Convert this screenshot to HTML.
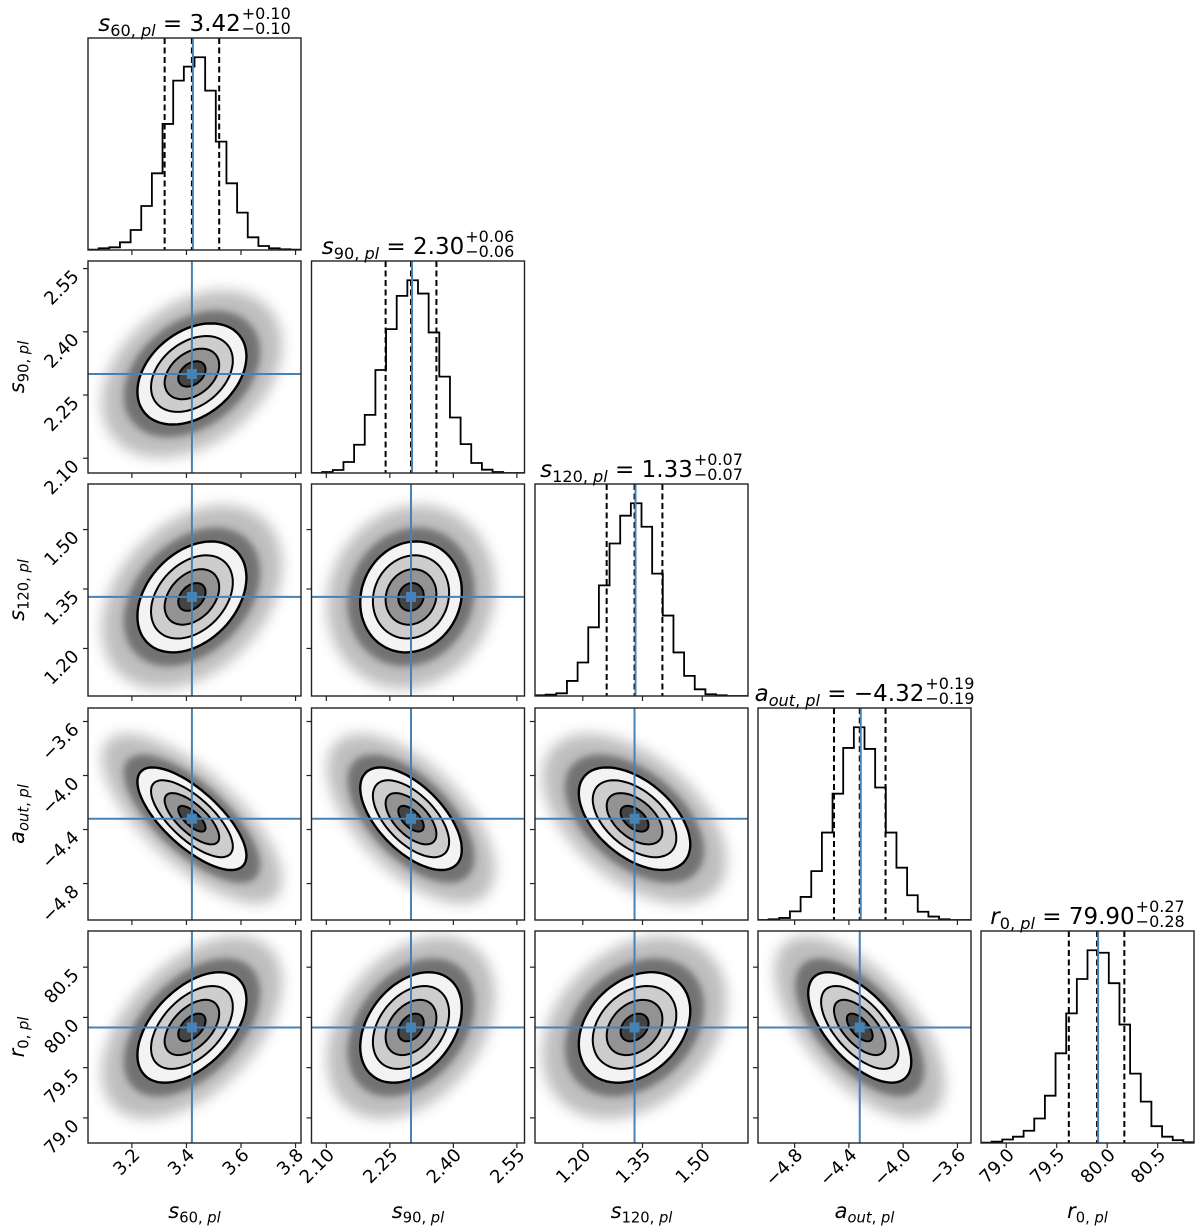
<!DOCTYPE html>
<html><head><meta charset="utf-8">
<style>
html,body{margin:0;padding:0;background:#fff;}
svg{display:block;font-family:"DejaVu Sans","Liberation Sans",sans-serif;}
</style></head>
<body>
<svg id="fig" width="1200" height="1232" viewBox="0 0 1200 1232" xmlns="http://www.w3.org/2000/svg">
<defs>
<filter id="blurA" x="-50%" y="-50%" width="200%" height="200%"><feGaussianBlur stdDeviation="7"/></filter>
<filter id="blurB" x="-50%" y="-50%" width="200%" height="200%"><feGaussianBlur stdDeviation="3.5"/></filter>
</defs>
</svg>
<script>
// ---- data ----
const paramNames = ["60", "90", "120", "out", "0"];
const paramLetters = ["s", "s", "s", "a", "r"];
const medians = [3.42, 2.30, 1.33, -4.32, 79.90];
const errPlus = [0.10, 0.06, 0.07, 0.19, 0.27];
const errMinus = [0.10, 0.06, 0.07, 0.19, 0.28];
const truths = [3.42, 2.30, 1.33, -4.32, 79.90];
const rangeMin = [3.039, 2.065, 1.08, -5.07, 78.75];
const rangeMax = [3.82, 2.568, 1.615, -3.50, 80.86];
const ticks0 = [3.2, 3.4, 3.6, 3.8];
const ticks1 = [2.10, 2.25, 2.40, 2.55];
const ticks2 = [1.20, 1.35, 1.50];
const ticks3 = [-4.8, -4.4, -4.0, -3.6];
const ticks4 = [79.0, 79.5, 80.0, 80.5];
const tickLabels0 = ["3.2", "3.4", "3.6", "3.8"];
const tickLabels1 = ["2.10", "2.25", "2.40", "2.55"];
const tickLabels2 = ["1.20", "1.35", "1.50"];
const tickLabels3 = ["\u22124.8", "\u22124.4", "\u22124.0", "\u22123.6"];
const tickLabels4 = ["79.0", "79.5", "80.0", "80.5"];
const hist0 = [1,5,8,23,60,132,230,378,508,550,578,478,325,200,112,38,12,5,2,1];
const hist1 = [0,3,9,33,85,175,310,433,533,580,540,423,290,167,87,30,10,3,0,0];
const hist2 = [2,4,8,45,100,205,330,455,538,575,505,365,240,130,60,20,5,2,0,0];
const hist3 = [0,2,6,25,67,142,254,367,500,560,497,385,254,152,72,24,10,2,0,0];
const hist4 = [1,4,10,18,35,70,135,256,370,468,550,543,456,338,198,118,48,18,8,2];
// correlation rows (lower triangle used)
const corr1 = [0.35];
const corr2 = [0.35, 0.10];
const corr3 = [-0.72, -0.60, -0.50];
const corr4 = [0.50, 0.35, 0.30, -0.62];

const ticksAll = [ticks0, ticks1, ticks2, ticks3, ticks4];
const labelsAll = [tickLabels0, tickLabels1, tickLabels2, tickLabels3, tickLabels4];
const histAll = [hist0, hist1, hist2, hist3, hist4];
const corrAll = [[], corr1, corr2, corr3, corr4];

// ---- layout ----
const colX = [88, 311.5, 535, 758, 981];
const rowY = [38, 261, 484, 708, 931];
const PW = 213, PH = 212;
const BLUE = "#4682b4";
const NS = "http://www.w3.org/2000/svg";
const svg = document.getElementById("fig");
function mk(tag, attrs, parent) {
  const e = document.createElementNS(NS, tag);
  for (const k in attrs) e.setAttribute(k, attrs[k]);
  (parent || svg).appendChild(e);
  return e;
}
function sx(p, v) { return colX[p] + (v - rangeMin[p]) / (rangeMax[p] - rangeMin[p]) * PW; }
function sy(p, row, v) { return rowY[row] + PH - (v - rangeMin[p]) / (rangeMax[p] - rangeMin[p]) * PH; }
const sigmas = medians.map((m, i) => (errPlus[i] + errMinus[i]) / 2);

function addTitleLike(parent, x, y, letter, sub, fs) {
  const t = mk("text", {x: x, y: y, "font-size": fs, fill: "#000"}, parent);
  const a = mk("tspan", {"font-style": "italic"}, t); a.textContent = letter;
  const isNum = /^[0-9]+$/.test(sub);
  const b = mk("tspan", {"font-size": fs * 0.7, dy: fs * 0.22, "font-style": isNum ? "normal" : "italic"}, t); b.textContent = sub;
  const b2 = mk("tspan", {"font-size": fs * 0.7}, t); b2.textContent = ", ";
  const c = mk("tspan", {"font-size": fs * 0.7, "font-style": "italic"}, t); c.textContent = "pl";
  return t;
}

for (let i = 0; i < 5; i++) {
  for (let j = 0; j <= i; j++) {
    const g = mk("g", {});
    
    
    const x0 = colX[j], y0 = rowY[i];
    const cid = "clip" + i + "_" + j;
    const cp = mk("clipPath", {id: cid}, g);
    mk("rect", {x: x0, y: y0, width: PW, height: PH}, cp);
    const inner = mk("g", {"clip-path": "url(#" + cid + ")"}, g);
    if (i === j) {
      const h = histAll[i];
      const ymax = Math.max.apply(null, h) * 1.1;
      const n = h.length;
      const bw = (rangeMax[i] - rangeMin[i]) / n;
      let d = "M" + sx(i, rangeMin[i]) + "," + (y0 + PH);
      for (let k = 0; k < n; k++) {
        const yy = y0 + PH - h[k] / ymax * PH;
        d += " L" + sx(i, rangeMin[i] + k * bw) + "," + yy + " L" + sx(i, rangeMin[i] + (k + 1) * bw) + "," + yy;
      }
      d += " L" + sx(i, rangeMax[i]) + "," + (y0 + PH);
      const hp = mk("path", {d: d, fill: "none", stroke: "#000", "stroke-width": 1.8}, inner);
      
      
      const qs = [medians[i] - errMinus[i], medians[i], medians[i] + errPlus[i]];
      qs.forEach(q => {
        const l = mk("line", {x1: sx(i, q), x2: sx(i, q), y1: y0, y2: y0 + PH, stroke: "#000", "stroke-width": 2, "stroke-dasharray": "6,3.5"}, inner);
        
        
      });
      const tl = mk("line", {x1: sx(i, truths[i]) + 1, x2: sx(i, truths[i]) + 1, y1: y0, y2: y0 + PH, stroke: BLUE, "stroke-width": 2}, inner);
      
      
      // title
      const tg = mk("g", {}, svg);
      
      
      const fs = 23;
      const ty = y0 - 7;
      const t = addTitleLike(tg, 0, ty, paramLetters[i], paramNames[i], fs);
      const rest = mk("tspan", {dy: -fs * 0.22}, t);
      rest.textContent = " = " + (medians[i] < 0 ? "\u2212" + Math.abs(medians[i]).toFixed(2) : medians[i].toFixed(2));
      const sup = mk("text", {y: ty - 12, "font-size": 16}, tg); sup.textContent = "+" + errPlus[i].toFixed(2);
      const sub = mk("text", {y: ty + 3, "font-size": 16}, tg); sub.textContent = "\u2212" + errMinus[i].toFixed(2);
      const w1 = t.getComputedTextLength();
      const w2 = Math.max(sup.getComputedTextLength(), sub.getComputedTextLength());
      const start = x0 + PW / 2 - (w1 + w2 + 1) / 2;
      t.setAttribute("x", start);
      sup.setAttribute("x", start + w1 + 1);
      sub.setAttribute("x", start + w1 + 1);
    } else {
      const px = j, py = i;
      const r = corrAll[i][j];
      const mx = medians[px], my = medians[py], sxg = sigmas[px], syg = sigmas[py];
      function ell(k) {
        let d = "";
        for (let a = 0; a <= 72; a++) {
          const t = a / 72 * 2 * Math.PI;
          const vx = mx + k * sxg * Math.cos(t);
          const vy = my + k * syg * (r * Math.cos(t) + Math.sqrt(1 - r * r) * Math.sin(t));
          d += (a ? " L" : "M") + sx(px, vx).toFixed(1) + "," + sy(py, i, vy).toFixed(1);
        }
        return d + "Z";
      }
      const h1 = mk("path", {d: ell(3.3), fill: "#3a3a3a", opacity: 0.33, filter: "url(#blurA)"}, inner);
      
      
      const h2 = mk("path", {d: ell(2.5), fill: "#2a2a2a", opacity: 0.5, filter: "url(#blurB)"}, inner);
      
      
      const fills = ["#f3f3f3", "#cdcdcd", "#939393", "#444444"];
      const levels = [2, 1.5, 1, 0.5];
      levels.forEach((k, n) => {
        const f = mk("path", {d: ell(k), fill: fills[n], stroke: "#000", "stroke-width": n === 0 ? 2.4 : 2}, inner);
        
        
      });
      const vx = sx(px, truths[px]), vy = sy(py, i, truths[py]);
      const lv = mk("line", {x1: vx, x2: vx, y1: y0, y2: y0 + PH, stroke: BLUE, "stroke-width": 2}, inner);
      
      
      const lh = mk("line", {x1: x0, x2: x0 + PW, y1: vy, y2: vy, stroke: BLUE, "stroke-width": 2}, inner);
      
      
      const mkr = mk("rect", {x: vx - 5, y: vy - 5, width: 10, height: 10, fill: BLUE}, inner);
      
      
      // y ticks
      ticksAll[i].forEach((tv, n) => {
        const yy = sy(i, i, tv);
        mk("line", {x1: x0 - 5, x2: x0, y1: yy, y2: yy, stroke: "#222", "stroke-width": 1.2}, g);
        if (j === 0) {
          const tl2 = mk("text", {x: 0, y: 0, "font-size": 18, "text-anchor": "end", transform: "translate(" + (x0 - 8) + "," + (yy + 9) + ") rotate(-45)"}, svg);
          
          
          tl2.textContent = labelsAll[i][n];
        }
      });
    }
    // frame
    const fr = mk("rect", {x: x0, y: y0, width: PW, height: PH, fill: "none", stroke: "#222", "stroke-width": 1.4}, g);
    
    
    // x ticks
    ticksAll[j].forEach((tv, n) => {
      const xx = sx(j, tv);
      mk("line", {x1: xx, x2: xx, y1: y0 + PH, y2: y0 + PH + 5, stroke: "#222", "stroke-width": 1.2}, g);
      if (i === 4) {
        const tl3 = mk("text", {x: 0, y: 0, "font-size": 18, "text-anchor": "end", transform: "translate(" + (xx + 9) + "," + (y0 + PH + 13) + ") rotate(-45)"}, svg);
        
        
        tl3.textContent = labelsAll[j][n];
      }
    });
  }
}
// axis labels
for (let p = 0; p < 5; p++) {
  const xg = mk("g", {});
  
  
  const t = addTitleLike(xg, 0, 1218, paramLetters[p], paramNames[p], 21);
  t.setAttribute("x", colX[p] + PW / 2 - t.getComputedTextLength() / 2);
  if (p > 0) {
    const yg = mk("g", {});
    
    
    const t2 = addTitleLike(yg, 0, 0, paramLetters[p], paramNames[p], 21);
    const w = t2.getComputedTextLength();
    t2.setAttribute("transform", "translate(24," + (rowY[p] + PH / 2 + w / 2) + ") rotate(-90)");
  }
}
</script>
</body></html>
